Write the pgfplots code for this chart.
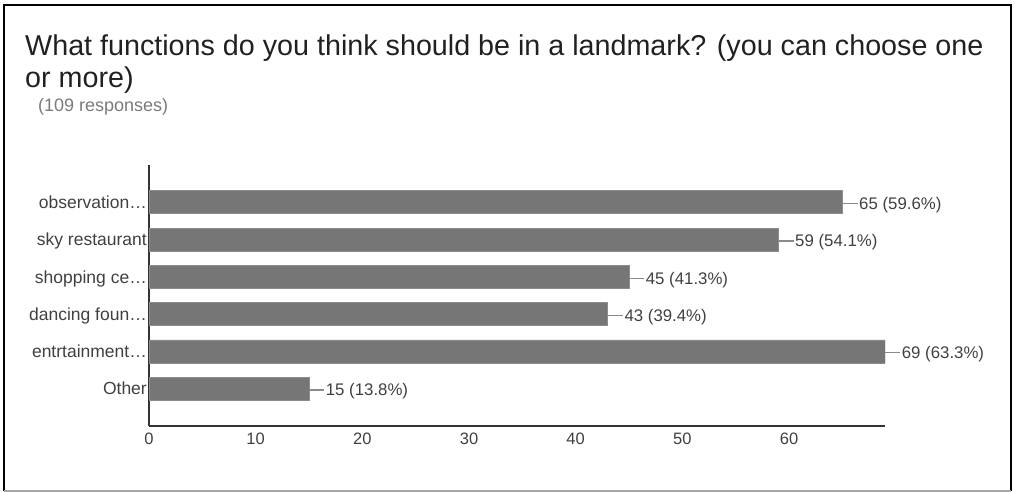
\documentclass[border=0pt]{standalone}
\usepackage{fontspec}
\setmainfont{Liberation Sans}
\usepackage{pgfplots}
\usepackage{pgfplotstable}
\pgfplotsset{compat=1.18}
\definecolor{bargray}{HTML}{767676}
\definecolor{bardraw}{HTML}{8C8C8C}
\definecolor{txt}{HTML}{212121}
\definecolor{subc}{HTML}{7A7A7A}
\definecolor{lab}{HTML}{404040}
\definecolor{axisc}{HTML}{333333}
\definecolor{leader}{HTML}{8A8A8A}
\newcommand{\ld}{\textcolor{leader}{\rule[5.2pt]{15pt}{1.3pt}}\hspace{1.5pt}}

\pgfplotstableread[col sep=comma]{
pos,val,lab
6,65,65 (59.6\%)
5,59,59 (54.1\%)
4,45,45 (41.3\%)
3,43,43 (39.4\%)
2,69,69 (63.3\%)
1,15,15 (13.8\%)
}\data

\begin{document}
\begin{tikzpicture}[x=1pt,y=1pt]
\useasboundingbox (0,0) rectangle (1015,492);
\draw[line width=2.2pt] (4,1) -- (4,487) -- (1011,487) -- (1011,1);
\draw[line width=1.5pt, black!35] (4,1) -- (1011,1);
\node[anchor=base west, text=txt, font=\fontsize{28.7}{32}\selectfont, inner sep=0pt] at (25,436) {What functions do you think should be in a landmark? (you can choose one};
\node[anchor=base west, text=txt, font=\fontsize{28.7}{32}\selectfont, inner sep=0pt] at (25,404) {or more)};
\node[anchor=base west, text=subc, font=\fontsize{18}{21}\selectfont, inner sep=0pt] at (38,380) {(109 responses)};
\begin{axis}[
  at={(149pt,66pt)}, anchor=south west,
  scale only axis, width=736pt, height=261pt,
  xmin=0, xmax=69, ymin=0, ymax=7,
  axis x line*=bottom, axis y line*=left,
  axis line style={-, draw=axisc, line width=1.3pt},
  xtick={0,10,...,60},
  ytick={1,2,3,4,5,6},
  yticklabels={Other, entrtainment…, dancing foun…, shopping ce…, sky restaurant, observation…},
  major tick length=0pt,
  tick style={draw=none},
  /pgf/number format/assume math mode=true,
  xticklabel style={font=\fontsize{16.5}{19}\selectfont, text=lab, yshift=-3.7pt},
  yticklabel style={font=\fontsize{17.5}{20}\selectfont, text=lab, inner xsep=2pt, text height=12.5pt, text depth=0pt},
  xbar, bar width=23pt,
  point meta=explicit symbolic,
  nodes near coords={\ld\pgfplotspointmeta},
  nodes near coords style={anchor=west, inner sep=0pt, font=\fontsize{16.8}{19}\selectfont, text=lab, text height=11.5pt, text depth=0pt, yshift=-1.5pt},
]
\addplot[fill=bargray, draw=bardraw, line width=0.8pt] table[x=val, y=pos, meta=lab] {\data};
\end{axis}
\end{tikzpicture}
\end{document}
